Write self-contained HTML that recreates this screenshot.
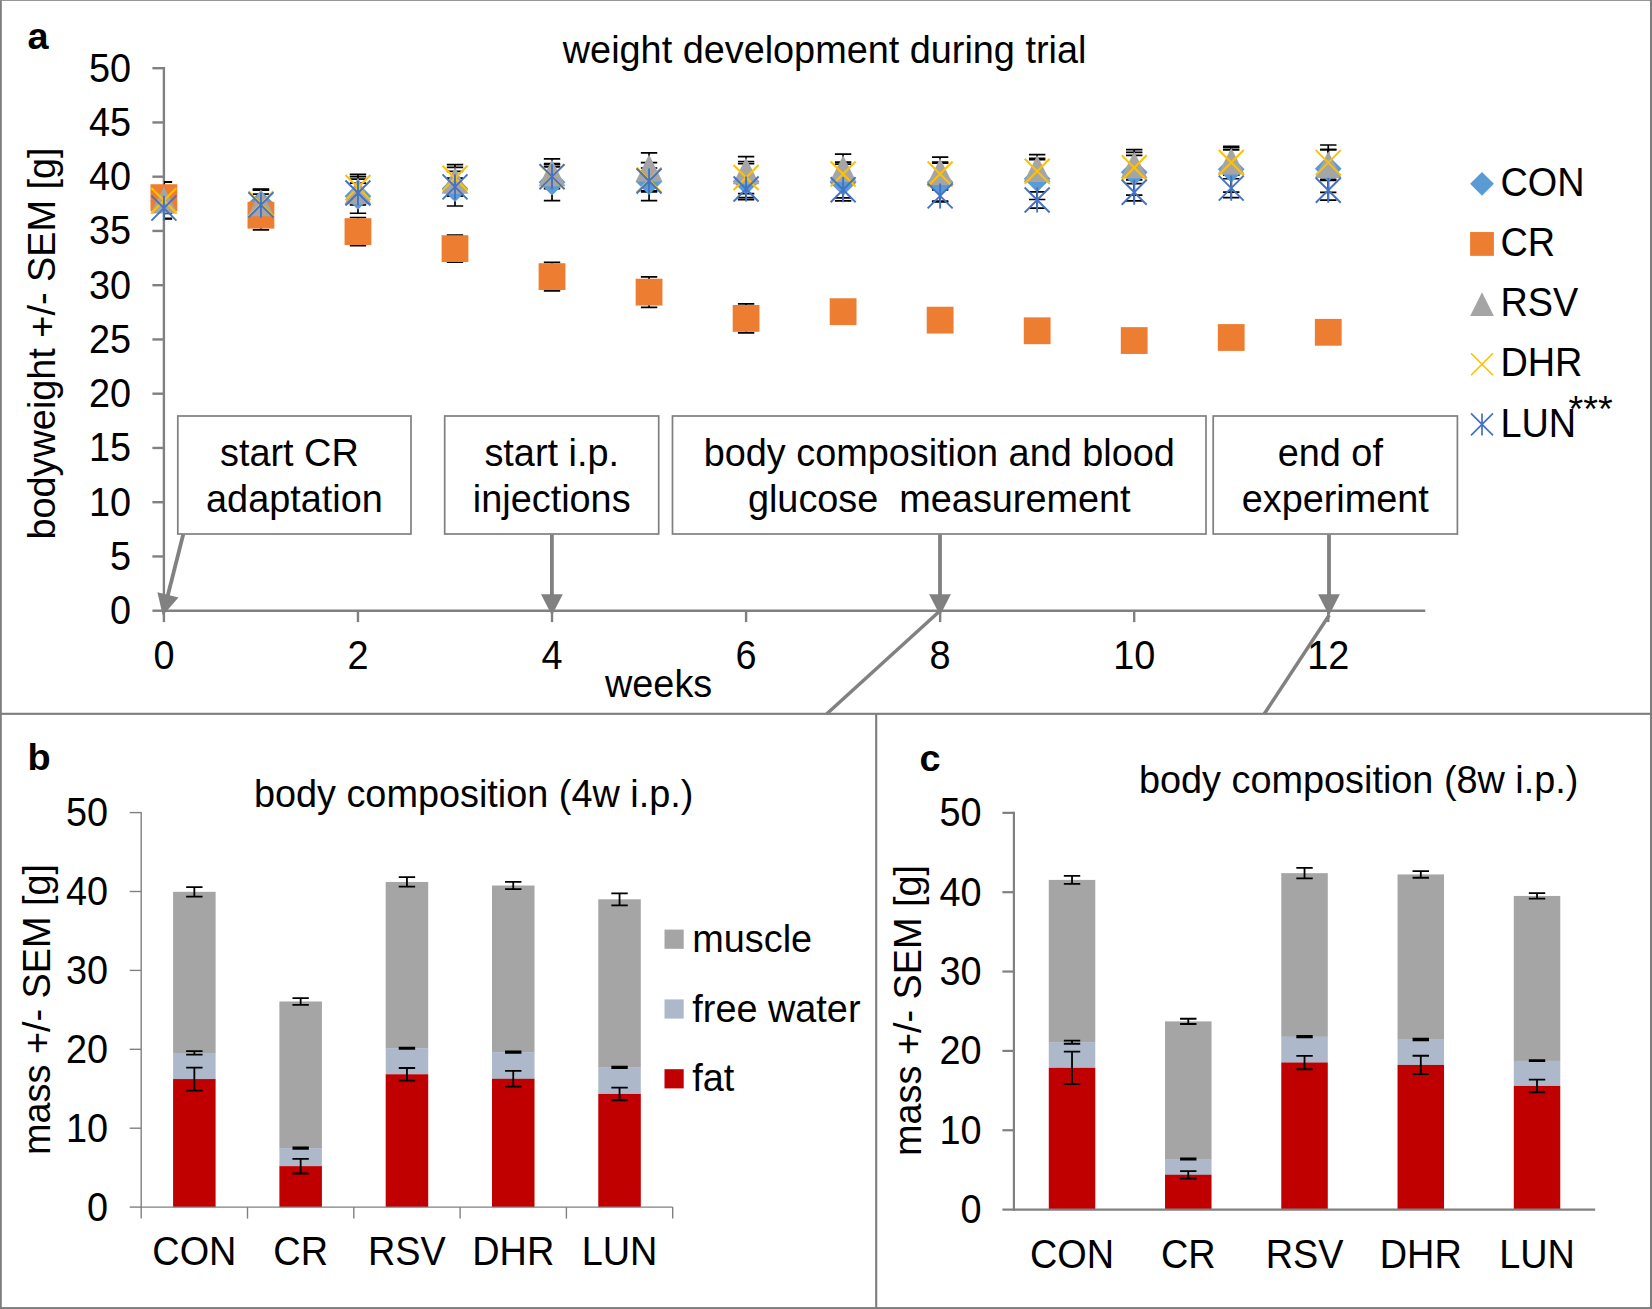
<!DOCTYPE html>
<html lang="en">
<head>
<meta charset="utf-8">
<title>Weight development and body composition</title>
<style>
html,body{margin:0;padding:0;background:#fff;}
body{width:1652px;height:1309px;overflow:hidden;}
svg{display:block;}
svg text{font-family:"Liberation Sans", Arial, sans-serif;font-size:37.85px;fill:#000;white-space:pre;}
</style>
</head>
<body>
<svg width="1652" height="1309" viewBox="0 0 1652 1309">
<rect x="0" y="0" width="1652" height="1309" fill="#ffffff"/>
<rect x="0" y="0" width="1.8" height="1309" fill="#7d7d7d"/>
<rect x="0" y="0" width="1652" height="0.9" fill="#8c8c8c"/>
<rect x="1650" y="0" width="2" height="1309" fill="#7d7d7d"/>
<rect x="0" y="1307.1" width="1652" height="1.9" fill="#7d7d7d"/>
<rect x="0" y="712.75" width="1652" height="2.1" fill="#7d7d7d"/>
<rect x="875.15" y="713" width="2.1" height="595" fill="#7d7d7d"/>
<text transform="translate(27.5,48.8) scale(1,1)" font-size="33.5" font-weight="bold">a</text>
<text transform="translate(562.8,62.7) scale(1,1.01)" font-size="38">weight development during trial</text>
<text transform="translate(55,539.5) rotate(-90) scale(1,1.01)">bodyweight +/- SEM [g]</text>
<text transform="translate(605,696.6) scale(1,1.01)">weeks</text>
<line x1="163.9" y1="67" x2="163.9" y2="611.9" stroke="#808080" stroke-width="2.4"/>
<line x1="162.7" y1="610.7" x2="1425.29" y2="610.7" stroke="#808080" stroke-width="2.4"/>
<line x1="152.4" y1="610.7" x2="163.9" y2="610.7" stroke="#808080" stroke-width="2.4"/>
<text transform="translate(131,624.1) scale(1,1.055)" text-anchor="end">0</text>
<line x1="152.4" y1="556.45" x2="163.9" y2="556.45" stroke="#808080" stroke-width="2.4"/>
<text transform="translate(131,569.85) scale(1,1.055)" text-anchor="end">5</text>
<line x1="152.4" y1="502.2" x2="163.9" y2="502.2" stroke="#808080" stroke-width="2.4"/>
<text transform="translate(131,515.6) scale(1,1.055)" text-anchor="end">10</text>
<line x1="152.4" y1="447.95" x2="163.9" y2="447.95" stroke="#808080" stroke-width="2.4"/>
<text transform="translate(131,461.35) scale(1,1.055)" text-anchor="end">15</text>
<line x1="152.4" y1="393.7" x2="163.9" y2="393.7" stroke="#808080" stroke-width="2.4"/>
<text transform="translate(131,407.1) scale(1,1.055)" text-anchor="end">20</text>
<line x1="152.4" y1="339.45" x2="163.9" y2="339.45" stroke="#808080" stroke-width="2.4"/>
<text transform="translate(131,352.85) scale(1,1.055)" text-anchor="end">25</text>
<line x1="152.4" y1="285.2" x2="163.9" y2="285.2" stroke="#808080" stroke-width="2.4"/>
<text transform="translate(131,298.6) scale(1,1.055)" text-anchor="end">30</text>
<line x1="152.4" y1="230.95" x2="163.9" y2="230.95" stroke="#808080" stroke-width="2.4"/>
<text transform="translate(131,244.35) scale(1,1.055)" text-anchor="end">35</text>
<line x1="152.4" y1="176.7" x2="163.9" y2="176.7" stroke="#808080" stroke-width="2.4"/>
<text transform="translate(131,190.1) scale(1,1.055)" text-anchor="end">40</text>
<line x1="152.4" y1="122.45" x2="163.9" y2="122.45" stroke="#808080" stroke-width="2.4"/>
<text transform="translate(131,135.85) scale(1,1.055)" text-anchor="end">45</text>
<line x1="152.4" y1="68.2" x2="163.9" y2="68.2" stroke="#808080" stroke-width="2.4"/>
<text transform="translate(131,81.6) scale(1,1.055)" text-anchor="end">50</text>
<line x1="163.9" y1="610.7" x2="163.9" y2="622.1" stroke="#808080" stroke-width="2.4"/>
<text transform="translate(163.9,669.3) scale(1,1.055)" text-anchor="middle">0</text>
<line x1="357.96" y1="610.7" x2="357.96" y2="622.1" stroke="#808080" stroke-width="2.4"/>
<text transform="translate(357.96,669.3) scale(1,1.055)" text-anchor="middle">2</text>
<line x1="552.02" y1="610.7" x2="552.02" y2="622.1" stroke="#808080" stroke-width="2.4"/>
<text transform="translate(552.02,669.3) scale(1,1.055)" text-anchor="middle">4</text>
<line x1="746.08" y1="610.7" x2="746.08" y2="622.1" stroke="#808080" stroke-width="2.4"/>
<text transform="translate(746.08,669.3) scale(1,1.055)" text-anchor="middle">6</text>
<line x1="940.14" y1="610.7" x2="940.14" y2="622.1" stroke="#808080" stroke-width="2.4"/>
<text transform="translate(940.14,669.3) scale(1,1.055)" text-anchor="middle">8</text>
<line x1="1134.2" y1="610.7" x2="1134.2" y2="622.1" stroke="#808080" stroke-width="2.4"/>
<text transform="translate(1134.2,669.3) scale(1,1.055)" text-anchor="middle">10</text>
<line x1="1328.26" y1="610.7" x2="1328.26" y2="622.1" stroke="#808080" stroke-width="2.4"/>
<text transform="translate(1328.26,669.3) scale(1,1.055)" text-anchor="middle">12</text>
<clipPath id="plotA"><rect x="164" y="60" width="1270" height="552"/></clipPath>
<g clip-path="url(#plotA)">
<path d="M163.9 182.13V219.02M155.7 182.13H172.1M155.7 219.02H172.1" stroke="#000" stroke-width="1.7" fill="none"/>
<path d="M260.93 190.26V217.39M252.73 190.26H269.13M252.73 217.39H269.13" stroke="#000" stroke-width="1.7" fill="none"/>
<path d="M357.96 179.2V213.26M349.76 179.2H366.16M349.76 213.26H366.16" stroke="#000" stroke-width="1.7" fill="none"/>
<path d="M454.99 171.28V206M446.79 171.28H463.19M446.79 206H463.19" stroke="#000" stroke-width="1.7" fill="none"/>
<path d="M552.02 163.68V200.57M543.82 163.68H560.22M543.82 200.57H560.22" stroke="#000" stroke-width="1.7" fill="none"/>
<path d="M649.05 162.6V200.57M640.85 162.6H657.25M640.85 200.57H657.25" stroke="#000" stroke-width="1.7" fill="none"/>
<path d="M746.08 163.57V199.59M737.88 163.57H754.28M737.88 199.59H754.28" stroke="#000" stroke-width="1.7" fill="none"/>
<path d="M843.11 164.11V200.79M834.91 164.11H851.31M834.91 200.79H851.31" stroke="#000" stroke-width="1.7" fill="none"/>
<path d="M940.14 163.14V201.11M931.94 163.14H948.34M931.94 201.11H948.34" stroke="#000" stroke-width="1.7" fill="none"/>
<path d="M1037.17 158.26V199.49M1028.97 158.26H1045.37M1028.97 199.49H1045.37" stroke="#000" stroke-width="1.7" fill="none"/>
<path d="M1134.2 149.58V195.15M1126 149.58H1142.4M1126 195.15H1142.4" stroke="#000" stroke-width="1.7" fill="none"/>
<path d="M1231.23 146.43V192.22M1223.03 146.43H1239.43M1223.03 192.22H1239.43" stroke="#000" stroke-width="1.7" fill="none"/>
<path d="M1328.26 145.02V192.32M1320.06 145.02H1336.46M1320.06 192.32H1336.46" stroke="#000" stroke-width="1.7" fill="none"/>
<path d="M163.9 181.91V213.37M155.7 181.91H172.1M155.7 213.37H172.1" stroke="#000" stroke-width="1.7" fill="none"/>
<path d="M260.93 200.57V229.87M252.73 200.57H269.13M252.73 229.87H269.13" stroke="#000" stroke-width="1.7" fill="none"/>
<path d="M357.96 217.5V245.71M349.76 217.5H366.16M349.76 245.71H366.16" stroke="#000" stroke-width="1.7" fill="none"/>
<path d="M454.99 235.07V262.2M446.79 235.07H463.19M446.79 262.2H463.19" stroke="#000" stroke-width="1.7" fill="none"/>
<path d="M552.02 262.31V290.95M543.82 262.31H560.22M543.82 290.95H560.22" stroke="#000" stroke-width="1.7" fill="none"/>
<path d="M649.05 276.95V307.33M640.85 276.95H657.25M640.85 307.33H657.25" stroke="#000" stroke-width="1.7" fill="none"/>
<path d="M746.08 303.97V332.83M737.88 303.97H754.28M737.88 332.83H754.28" stroke="#000" stroke-width="1.7" fill="none"/>
<path d="M843.11 300.82V322.52M834.91 300.82H851.31M834.91 322.52H851.31" stroke="#000" stroke-width="1.7" fill="none"/>
<path d="M940.14 310.37V329.9M931.94 310.37H948.34M931.94 329.9H948.34" stroke="#000" stroke-width="1.7" fill="none"/>
<path d="M1037.17 322.09V339.45M1028.97 322.09H1045.37M1028.97 339.45H1045.37" stroke="#000" stroke-width="1.7" fill="none"/>
<path d="M1134.2 331.86V349.22M1126 331.86H1142.4M1126 349.22H1142.4" stroke="#000" stroke-width="1.7" fill="none"/>
<path d="M1231.23 328.82V346.18M1223.03 328.82H1239.43M1223.03 346.18H1239.43" stroke="#000" stroke-width="1.7" fill="none"/>
<path d="M1328.26 323.61V340.97M1320.06 323.61H1336.46M1320.06 340.97H1336.46" stroke="#000" stroke-width="1.7" fill="none"/>
<path d="M163.9 187.01V213.05M155.7 187.01H172.1M155.7 213.05H172.1" stroke="#000" stroke-width="1.7" fill="none"/>
<path d="M260.93 189.18V216.3M252.73 189.18H269.13M252.73 216.3H269.13" stroke="#000" stroke-width="1.7" fill="none"/>
<path d="M357.96 176.7V204.91M349.76 176.7H366.16M349.76 204.91H366.16" stroke="#000" stroke-width="1.7" fill="none"/>
<path d="M454.99 164.55V196.01M446.79 164.55H463.19M446.79 196.01H463.19" stroke="#000" stroke-width="1.7" fill="none"/>
<path d="M552.02 158.8V187.01M543.82 158.8H560.22M543.82 187.01H560.22" stroke="#000" stroke-width="1.7" fill="none"/>
<path d="M649.05 152.83V183.21M640.85 152.83H657.25M640.85 183.21H657.25" stroke="#000" stroke-width="1.7" fill="none"/>
<path d="M746.08 156.63V185.05M737.88 156.63H754.28M737.88 185.05H754.28" stroke="#000" stroke-width="1.7" fill="none"/>
<path d="M843.11 154.13V182.99M834.91 154.13H851.31M834.91 182.99H851.31" stroke="#000" stroke-width="1.7" fill="none"/>
<path d="M940.14 157.17V186.03M931.94 157.17H948.34M931.94 186.03H948.34" stroke="#000" stroke-width="1.7" fill="none"/>
<path d="M1037.17 154.67V182.45M1028.97 154.67H1045.37M1028.97 182.45H1045.37" stroke="#000" stroke-width="1.7" fill="none"/>
<path d="M1134.2 152.29V177.46M1126 152.29H1142.4M1126 177.46H1142.4" stroke="#000" stroke-width="1.7" fill="none"/>
<path d="M1231.23 147.73V174.64M1223.03 147.73H1239.43M1223.03 174.64H1239.43" stroke="#000" stroke-width="1.7" fill="none"/>
<path d="M1328.26 149.68V179.41M1320.06 149.68H1336.46M1320.06 179.41H1336.46" stroke="#000" stroke-width="1.7" fill="none"/>
<path d="M163.9 188.64V212.51M155.7 188.64H172.1M155.7 212.51H172.1" stroke="#000" stroke-width="1.7" fill="none"/>
<path d="M260.93 189.72V217.93M252.73 189.72H269.13M252.73 217.93H269.13" stroke="#000" stroke-width="1.7" fill="none"/>
<path d="M357.96 174.31V200.79M349.76 174.31H366.16M349.76 200.79H366.16" stroke="#000" stroke-width="1.7" fill="none"/>
<path d="M454.99 167.37V189.07M446.79 167.37H463.19M446.79 189.07H463.19" stroke="#000" stroke-width="1.7" fill="none"/>
<path d="M552.02 164.77V188.64M543.82 164.77H560.22M543.82 188.64H560.22" stroke="#000" stroke-width="1.7" fill="none"/>
<path d="M649.05 168.02V191.89M640.85 168.02H657.25M640.85 191.89H657.25" stroke="#000" stroke-width="1.7" fill="none"/>
<path d="M746.08 161.51V193.63M737.88 161.51H754.28M737.88 193.63H754.28" stroke="#000" stroke-width="1.7" fill="none"/>
<path d="M843.11 162.05V185.92M834.91 162.05H851.31M834.91 185.92H851.31" stroke="#000" stroke-width="1.7" fill="none"/>
<path d="M940.14 162.05V185.92M931.94 162.05H948.34M931.94 185.92H948.34" stroke="#000" stroke-width="1.7" fill="none"/>
<path d="M1037.17 159.56V182.99M1028.97 159.56H1045.37M1028.97 182.99H1045.37" stroke="#000" stroke-width="1.7" fill="none"/>
<path d="M1134.2 155.43V179.96M1126 155.43H1142.4M1126 179.96H1142.4" stroke="#000" stroke-width="1.7" fill="none"/>
<path d="M1231.23 149.79V175.18M1223.03 149.79H1239.43M1223.03 175.18H1239.43" stroke="#000" stroke-width="1.7" fill="none"/>
<path d="M1328.26 149.58V175.62M1320.06 149.58H1336.46M1320.06 175.62H1336.46" stroke="#000" stroke-width="1.7" fill="none"/>
<path d="M163.9 197.86V218.47M155.7 197.86H172.1M155.7 218.47H172.1" stroke="#000" stroke-width="1.7" fill="none"/>
<path d="M260.93 194.06V215.76M252.73 194.06H269.13M252.73 215.76H269.13" stroke="#000" stroke-width="1.7" fill="none"/>
<path d="M357.96 183.21V202.74M349.76 183.21H366.16M349.76 202.74H366.16" stroke="#000" stroke-width="1.7" fill="none"/>
<path d="M454.99 178.22V195.58M446.79 178.22H463.19M446.79 195.58H463.19" stroke="#000" stroke-width="1.7" fill="none"/>
<path d="M552.02 166.94V186.47M543.82 166.94H560.22M543.82 186.47H560.22" stroke="#000" stroke-width="1.7" fill="none"/>
<path d="M649.05 171.28V190.81M640.85 171.28H657.25M640.85 190.81H657.25" stroke="#000" stroke-width="1.7" fill="none"/>
<path d="M746.08 180.28V197.64M737.88 180.28H754.28M737.88 197.64H754.28" stroke="#000" stroke-width="1.7" fill="none"/>
<path d="M843.11 181.58V197.86M834.91 181.58H851.31M834.91 197.86H851.31" stroke="#000" stroke-width="1.7" fill="none"/>
<path d="M940.14 189.94V201.87M931.94 189.94H948.34M931.94 201.87H948.34" stroke="#000" stroke-width="1.7" fill="none"/>
<path d="M1037.17 191.89V208.17M1028.97 191.89H1045.37M1028.97 208.17H1045.37" stroke="#000" stroke-width="1.7" fill="none"/>
<path d="M1134.2 183.54V200.9M1126 183.54H1142.4M1126 200.9H1142.4" stroke="#000" stroke-width="1.7" fill="none"/>
<path d="M1231.23 178.76V197.64M1223.03 178.76H1239.43M1223.03 197.64H1239.43" stroke="#000" stroke-width="1.7" fill="none"/>
<path d="M1328.26 180.5V200.03M1320.06 180.5H1336.46M1320.06 200.03H1336.46" stroke="#000" stroke-width="1.7" fill="none"/>
</g>
<path d="M163.9 187.17L177.3 200.57L163.9 213.97L150.5 200.57Z" fill="#5b9bd5"/>
<path d="M260.93 190.43L274.33 203.83L260.93 217.23L247.53 203.83Z" fill="#5b9bd5"/>
<path d="M357.96 182.83L371.36 196.23L357.96 209.63L344.56 196.23Z" fill="#5b9bd5"/>
<path d="M454.99 175.24L468.39 188.64L454.99 202.04L441.59 188.64Z" fill="#5b9bd5"/>
<path d="M552.02 168.73L565.42 182.13L552.02 195.53L538.62 182.13Z" fill="#5b9bd5"/>
<path d="M649.05 168.18L662.45 181.58L649.05 194.98L635.65 181.58Z" fill="#5b9bd5"/>
<path d="M746.08 168.18L759.48 181.58L746.08 194.98L732.68 181.58Z" fill="#5b9bd5"/>
<path d="M843.11 169.05L856.51 182.45L843.11 195.85L829.71 182.45Z" fill="#5b9bd5"/>
<path d="M940.14 168.73L953.54 182.13L940.14 195.53L926.74 182.13Z" fill="#5b9bd5"/>
<path d="M1037.17 165.47L1050.57 178.87L1037.17 192.27L1023.77 178.87Z" fill="#5b9bd5"/>
<path d="M1134.2 158.96L1147.6 172.36L1134.2 185.76L1120.8 172.36Z" fill="#5b9bd5"/>
<path d="M1231.23 155.92L1244.63 169.32L1231.23 182.72L1217.83 169.32Z" fill="#5b9bd5"/>
<path d="M1328.26 155.27L1341.66 168.67L1328.26 182.07L1314.86 168.67Z" fill="#5b9bd5"/>
<rect x="150.5" y="184.24" width="26.8" height="26.8" fill="#ed7d31"/>
<rect x="247.53" y="201.82" width="26.8" height="26.8" fill="#ed7d31"/>
<rect x="344.56" y="218.2" width="26.8" height="26.8" fill="#ed7d31"/>
<rect x="441.59" y="235.24" width="26.8" height="26.8" fill="#ed7d31"/>
<rect x="538.62" y="263.23" width="26.8" height="26.8" fill="#ed7d31"/>
<rect x="635.65" y="278.74" width="26.8" height="26.8" fill="#ed7d31"/>
<rect x="732.68" y="305" width="26.8" height="26.8" fill="#ed7d31"/>
<rect x="829.71" y="298.27" width="26.8" height="26.8" fill="#ed7d31"/>
<rect x="926.74" y="306.74" width="26.8" height="26.8" fill="#ed7d31"/>
<rect x="1023.77" y="317.37" width="26.8" height="26.8" fill="#ed7d31"/>
<rect x="1120.8" y="327.14" width="26.8" height="26.8" fill="#ed7d31"/>
<rect x="1217.83" y="324.1" width="26.8" height="26.8" fill="#ed7d31"/>
<rect x="1314.86" y="318.89" width="26.8" height="26.8" fill="#ed7d31"/>
<path d="M163.9 186.63L177.3 213.43H150.5Z" fill="#a5a5a5"/>
<path d="M260.93 189.34L274.33 216.14H247.53Z" fill="#a5a5a5"/>
<path d="M357.96 177.41L371.36 204.21H344.56Z" fill="#a5a5a5"/>
<path d="M454.99 166.88L468.39 193.68H441.59Z" fill="#a5a5a5"/>
<path d="M552.02 159.5L565.42 186.3H538.62Z" fill="#a5a5a5"/>
<path d="M649.05 154.62L662.45 181.42H635.65Z" fill="#a5a5a5"/>
<path d="M746.08 157.44L759.48 184.24H732.68Z" fill="#a5a5a5"/>
<path d="M843.11 155.16L856.51 181.96H829.71Z" fill="#a5a5a5"/>
<path d="M940.14 158.2L953.54 185H926.74Z" fill="#a5a5a5"/>
<path d="M1037.17 155.16L1050.57 181.96H1023.77Z" fill="#a5a5a5"/>
<path d="M1134.2 151.47L1147.6 178.27H1120.8Z" fill="#a5a5a5"/>
<path d="M1231.23 147.78L1244.63 174.58H1217.83Z" fill="#a5a5a5"/>
<path d="M1328.26 151.15L1341.66 177.95H1314.86Z" fill="#a5a5a5"/>
<path d="M151.4 188.07L176.4 213.07M151.4 213.07L176.4 188.07" stroke="#ffc000" stroke-width="2.0" fill="none"/>
<path d="M248.43 191.33L273.43 216.33M248.43 216.33L273.43 191.33" stroke="#ffc000" stroke-width="2.0" fill="none"/>
<path d="M345.46 175.05L370.46 200.05M345.46 200.05L370.46 175.05" stroke="#ffc000" stroke-width="2.0" fill="none"/>
<path d="M442.49 165.72L467.49 190.72M442.49 190.72L467.49 165.72" stroke="#ffc000" stroke-width="2.0" fill="none"/>
<path d="M539.52 164.2L564.52 189.2M539.52 189.2L564.52 164.2" stroke="#ffc000" stroke-width="2.0" fill="none"/>
<path d="M636.55 167.46L661.55 192.46M636.55 192.46L661.55 167.46" stroke="#ffc000" stroke-width="2.0" fill="none"/>
<path d="M733.58 165.07L758.58 190.07M733.58 190.07L758.58 165.07" stroke="#ffc000" stroke-width="2.0" fill="none"/>
<path d="M830.61 161.49L855.61 186.49M830.61 186.49L855.61 161.49" stroke="#ffc000" stroke-width="2.0" fill="none"/>
<path d="M927.64 161.49L952.64 186.49M927.64 186.49L952.64 161.49" stroke="#ffc000" stroke-width="2.0" fill="none"/>
<path d="M1024.67 158.78L1049.67 183.78M1024.67 183.78L1049.67 158.78" stroke="#ffc000" stroke-width="2.0" fill="none"/>
<path d="M1121.7 155.19L1146.7 180.19M1121.7 180.19L1146.7 155.19" stroke="#ffc000" stroke-width="2.0" fill="none"/>
<path d="M1218.73 149.99L1243.73 174.99M1218.73 174.99L1243.73 149.99" stroke="#ffc000" stroke-width="2.0" fill="none"/>
<path d="M1315.76 150.1L1340.76 175.1M1315.76 175.1L1340.76 150.1" stroke="#ffc000" stroke-width="2.0" fill="none"/>
<path d="M151.4 195.67L176.4 220.67M151.4 220.67L176.4 195.67M163.9 195.67V220.67" stroke="#4472c4" stroke-width="1.9" fill="none"/>
<path d="M248.43 192.41L273.43 217.41M248.43 217.41L273.43 192.41M260.93 192.41V217.41" stroke="#4472c4" stroke-width="1.9" fill="none"/>
<path d="M345.46 180.48L370.46 205.48M345.46 205.48L370.46 180.48M357.96 180.48V205.48" stroke="#4472c4" stroke-width="1.9" fill="none"/>
<path d="M442.49 174.4L467.49 199.4M442.49 199.4L467.49 174.4M454.99 174.4V199.4" stroke="#4472c4" stroke-width="1.9" fill="none"/>
<path d="M539.52 164.2L564.52 189.2M539.52 189.2L564.52 164.2M552.02 164.2V189.2" stroke="#4472c4" stroke-width="1.9" fill="none"/>
<path d="M636.55 168.54L661.55 193.54M636.55 193.54L661.55 168.54M649.05 168.54V193.54" stroke="#4472c4" stroke-width="1.9" fill="none"/>
<path d="M733.58 176.46L758.58 201.46M733.58 201.46L758.58 176.46M746.08 176.46V201.46" stroke="#4472c4" stroke-width="1.9" fill="none"/>
<path d="M830.61 177.22L855.61 202.22M830.61 202.22L855.61 177.22M843.11 177.22V202.22" stroke="#4472c4" stroke-width="1.9" fill="none"/>
<path d="M927.64 183.4L952.64 208.4M927.64 208.4L952.64 183.4M940.14 183.4V208.4" stroke="#4472c4" stroke-width="1.9" fill="none"/>
<path d="M1024.67 187.53L1049.67 212.53M1024.67 212.53L1049.67 187.53M1037.17 187.53V212.53" stroke="#4472c4" stroke-width="1.9" fill="none"/>
<path d="M1121.7 179.72L1146.7 204.72M1121.7 204.72L1146.7 179.72M1134.2 179.72V204.72" stroke="#4472c4" stroke-width="1.9" fill="none"/>
<path d="M1218.73 175.7L1243.73 200.7M1218.73 200.7L1243.73 175.7M1231.23 175.7V200.7" stroke="#4472c4" stroke-width="1.9" fill="none"/>
<path d="M1315.76 177.76L1340.76 202.76M1315.76 202.76L1340.76 177.76M1328.26 177.76V202.76" stroke="#4472c4" stroke-width="1.9" fill="none"/>
<path d="M1482 171.9L1493.9 183.8L1482 195.7L1470.1 183.8Z" fill="#5b9bd5"/>
<text transform="translate(1500.4,195.9) scale(1,1.055)">CON</text>
<rect x="1470.1" y="232.05" width="23.8" height="23.8" fill="#ed7d31"/>
<text transform="translate(1500.4,256.05) scale(1,1.055)">CR</text>
<path d="M1482 292.2L1493.9 316H1470.1Z" fill="#a5a5a5"/>
<text transform="translate(1500.4,316.2) scale(1,1.055)">RSV</text>
<path d="M1471 353.25L1493 375.25M1471 375.25L1493 353.25" stroke="#ffc000" stroke-width="1.7" fill="none"/>
<text transform="translate(1500.4,376.35) scale(1,1.055)">DHR</text>
<path d="M1471 413.4L1493 435.4M1471 435.4L1493 413.4M1482 413.4V435.4" stroke="#4472c4" stroke-width="1.7" fill="none"/>
<text transform="translate(1500.4,436.5) scale(1,1.055)">LUN</text>
<text transform="translate(1568.5,421.8) scale(1,1)" font-size="33.8">***</text>
<rect x="177.8" y="416" width="233.2" height="118" fill="#ffffff" stroke="#7f7f7f" stroke-width="1.7"/>
<text transform="translate(289.4,466.1) scale(1,1.01)" text-anchor="middle">start CR</text>
<text transform="translate(294.4,511.9) scale(1,1.01)" text-anchor="middle">adaptation</text>
<rect x="444.7" y="416" width="214" height="118" fill="#ffffff" stroke="#7f7f7f" stroke-width="1.7"/>
<text transform="translate(551.7,466.1) scale(1,1.01)" text-anchor="middle">start i.p.</text>
<text transform="translate(551.7,511.9) scale(1,1.01)" text-anchor="middle">injections</text>
<rect x="672.5" y="416" width="533.5" height="118" fill="#ffffff" stroke="#7f7f7f" stroke-width="1.7"/>
<text transform="translate(939.25,466.1) scale(1,1.01)" text-anchor="middle">body composition and blood</text>
<text transform="translate(939.25,511.9) scale(1,1.01)" text-anchor="middle">glucose  measurement</text>
<rect x="1213.2" y="416" width="244.2" height="118" fill="#ffffff" stroke="#7f7f7f" stroke-width="1.7"/>
<text transform="translate(1330.3,466.1) scale(1,1.01)" text-anchor="middle">end of</text>
<text transform="translate(1335.3,511.9) scale(1,1.01)" text-anchor="middle">experiment</text>
<line x1="183.2" y1="534.5" x2="167.47" y2="596.79" stroke="#818181" stroke-width="3.8"/>
<path d="M162.75 615.5L157.4 592.18L178.53 597.52Z" fill="#818181"/>
<line x1="551.9" y1="534.5" x2="551.9" y2="596.3" stroke="#818181" stroke-width="3.8"/>
<path d="M551.9 615.6L541 594.3L562.8 594.3Z" fill="#818181"/>
<line x1="940" y1="534.5" x2="940" y2="596.3" stroke="#818181" stroke-width="3.8"/>
<path d="M940 615.6L929.1 594.3L950.9 594.3Z" fill="#818181"/>
<line x1="1329" y1="534.5" x2="1329" y2="596.3" stroke="#818181" stroke-width="3.8"/>
<path d="M1329 615.6L1318.1 594.3L1339.9 594.3Z" fill="#818181"/>
<line x1="939.8" y1="611" x2="826.6" y2="714" stroke="#818181" stroke-width="3.5"/>
<line x1="1329.3" y1="615" x2="1264.2" y2="714" stroke="#818181" stroke-width="3.5"/>
<text transform="translate(27.5,769.5) scale(1,1)" font-size="33.5" font-weight="bold">b</text>
<text transform="translate(253.9,806.8) scale(1,1.01)" font-size="38.15">body composition (4w i.p.)</text>
<text transform="translate(50,1155) rotate(-90) scale(1,1.01)">mass +/- SEM [g]</text>
<rect x="173.09" y="891.82" width="42.52" height="161.41" fill="#a5a5a5"/>
<rect x="173.09" y="1052.93" width="42.52" height="26.42" fill="#adb9ca"/>
<rect x="173.09" y="1079.05" width="42.52" height="128.05" fill="#c00000"/>
<rect x="279.39" y="1001.49" width="42.52" height="146.9" fill="#a5a5a5"/>
<rect x="279.39" y="1148.08" width="42.52" height="18.37" fill="#adb9ca"/>
<rect x="279.39" y="1166.15" width="42.52" height="40.95" fill="#c00000"/>
<rect x="385.69" y="881.95" width="42.52" height="166.54" fill="#a5a5a5"/>
<rect x="385.69" y="1048.2" width="42.52" height="26.42" fill="#adb9ca"/>
<rect x="385.69" y="1074.31" width="42.52" height="132.79" fill="#c00000"/>
<rect x="491.99" y="885.5" width="42.52" height="166.94" fill="#a5a5a5"/>
<rect x="491.99" y="1052.14" width="42.52" height="26.97" fill="#adb9ca"/>
<rect x="491.99" y="1078.81" width="42.52" height="128.29" fill="#c00000"/>
<rect x="598.29" y="899.31" width="42.52" height="168.36" fill="#a5a5a5"/>
<rect x="598.29" y="1067.37" width="42.52" height="26.89" fill="#adb9ca"/>
<rect x="598.29" y="1093.96" width="42.52" height="113.14" fill="#c00000"/>
<line x1="141.2" y1="811.9" x2="141.2" y2="1207.8" stroke="#808080" stroke-width="1.4"/>
<line x1="140.5" y1="1207.1" x2="672.7" y2="1207.1" stroke="#808080" stroke-width="1.4"/>
<line x1="129.7" y1="1207.1" x2="141.2" y2="1207.1" stroke="#808080" stroke-width="1.4"/>
<text transform="translate(108,1220.5) scale(1,1.055)" text-anchor="end">0</text>
<line x1="129.7" y1="1128.2" x2="141.2" y2="1128.2" stroke="#808080" stroke-width="1.4"/>
<text transform="translate(108,1141.6) scale(1,1.055)" text-anchor="end">10</text>
<line x1="129.7" y1="1049.3" x2="141.2" y2="1049.3" stroke="#808080" stroke-width="1.4"/>
<text transform="translate(108,1062.7) scale(1,1.055)" text-anchor="end">20</text>
<line x1="129.7" y1="970.4" x2="141.2" y2="970.4" stroke="#808080" stroke-width="1.4"/>
<text transform="translate(108,983.8) scale(1,1.055)" text-anchor="end">30</text>
<line x1="129.7" y1="891.5" x2="141.2" y2="891.5" stroke="#808080" stroke-width="1.4"/>
<text transform="translate(108,904.9) scale(1,1.055)" text-anchor="end">40</text>
<line x1="129.7" y1="812.6" x2="141.2" y2="812.6" stroke="#808080" stroke-width="1.4"/>
<text transform="translate(108,826) scale(1,1.055)" text-anchor="end">50</text>
<line x1="141.2" y1="1207.1" x2="141.2" y2="1218.6" stroke="#808080" stroke-width="1.4"/>
<line x1="247.5" y1="1207.1" x2="247.5" y2="1218.6" stroke="#808080" stroke-width="1.4"/>
<line x1="353.8" y1="1207.1" x2="353.8" y2="1218.6" stroke="#808080" stroke-width="1.4"/>
<line x1="460.1" y1="1207.1" x2="460.1" y2="1218.6" stroke="#808080" stroke-width="1.4"/>
<line x1="566.4" y1="1207.1" x2="566.4" y2="1218.6" stroke="#808080" stroke-width="1.4"/>
<line x1="672.7" y1="1207.1" x2="672.7" y2="1218.6" stroke="#808080" stroke-width="1.4"/>
<path d="M194.35 1067.53V1090.56M186.15 1067.53H202.55M186.15 1090.56H202.55" stroke="#000" stroke-width="1.8" fill="none"/>
<path d="M194.35 1051.19V1054.67M186.15 1051.19H202.55M186.15 1054.67H202.55" stroke="#000" stroke-width="1.8" fill="none"/>
<path d="M194.35 887.08V896.55M186.15 887.08H202.55M186.15 896.55H202.55" stroke="#000" stroke-width="1.8" fill="none"/>
<path d="M300.65 1158.81V1173.49M292.45 1158.81H308.85M292.45 1173.49H308.85" stroke="#000" stroke-width="1.8" fill="none"/>
<path d="M300.65 1147.29V1148.87M292.45 1147.29H308.85M292.45 1148.87H308.85" stroke="#000" stroke-width="1.8" fill="none"/>
<path d="M300.65 998.17V1004.8M292.45 998.17H308.85M292.45 1004.8H308.85" stroke="#000" stroke-width="1.8" fill="none"/>
<path d="M406.95 1068V1080.62M398.75 1068H415.15M398.75 1080.62H415.15" stroke="#000" stroke-width="1.8" fill="none"/>
<path d="M406.95 1047.56V1048.83M398.75 1047.56H415.15M398.75 1048.83H415.15" stroke="#000" stroke-width="1.8" fill="none"/>
<path d="M406.95 877.22V886.69M398.75 877.22H415.15M398.75 886.69H415.15" stroke="#000" stroke-width="1.8" fill="none"/>
<path d="M513.25 1070.92V1086.7M505.05 1070.92H521.45M505.05 1086.7H521.45" stroke="#000" stroke-width="1.8" fill="none"/>
<path d="M513.25 1051.35V1052.93M505.05 1051.35H521.45M505.05 1052.93H521.45" stroke="#000" stroke-width="1.8" fill="none"/>
<path d="M513.25 881.87V889.13M505.05 881.87H521.45M505.05 889.13H521.45" stroke="#000" stroke-width="1.8" fill="none"/>
<path d="M619.55 1087.65V1100.27M611.35 1087.65H627.75M611.35 1100.27H627.75" stroke="#000" stroke-width="1.8" fill="none"/>
<path d="M619.55 1066.74V1068M611.35 1066.74H627.75M611.35 1068H627.75" stroke="#000" stroke-width="1.8" fill="none"/>
<path d="M619.55 893.31V905.31M611.35 893.31H627.75M611.35 905.31H627.75" stroke="#000" stroke-width="1.8" fill="none"/>
<text transform="translate(194.35,1264.6) scale(1,1.055)" text-anchor="middle">CON</text>
<text transform="translate(300.65,1264.6) scale(1,1.055)" text-anchor="middle">CR</text>
<text transform="translate(406.95,1264.6) scale(1,1.055)" text-anchor="middle">RSV</text>
<text transform="translate(513.25,1264.6) scale(1,1.055)" text-anchor="middle">DHR</text>
<text transform="translate(619.55,1264.6) scale(1,1.055)" text-anchor="middle">LUN</text>
<rect x="664.5" y="929.6" width="19.2" height="19.2" fill="#a5a5a5"/>
<text transform="translate(692.3,951.8) scale(1,1.01)">muscle</text>
<rect x="664.5" y="999.4" width="19.2" height="19.2" fill="#adb9ca"/>
<text transform="translate(692.3,1021.6) scale(1,1.01)">free water</text>
<rect x="664.5" y="1069.2" width="19.2" height="19.2" fill="#c00000"/>
<text transform="translate(692.3,1091.4) scale(1,1.01)">fat</text>
<text transform="translate(919.5,770.8) scale(1,1)" font-size="33.5" font-weight="bold">c</text>
<text transform="translate(1139,793.3) scale(1,1.01)" font-size="38.15">body composition (8w i.p.)</text>
<text transform="translate(921,1156) rotate(-90) scale(1,1.01)">mass +/- SEM [g]</text>
<rect x="1048.78" y="879.9" width="46.5" height="162.57" fill="#a5a5a5"/>
<rect x="1048.78" y="1042.17" width="46.5" height="26.01" fill="#adb9ca"/>
<rect x="1048.78" y="1067.88" width="46.5" height="141.72" fill="#c00000"/>
<rect x="1165.03" y="1021.38" width="46.5" height="137.97" fill="#a5a5a5"/>
<rect x="1165.03" y="1159.05" width="46.5" height="16.01" fill="#adb9ca"/>
<rect x="1165.03" y="1174.77" width="46.5" height="34.83" fill="#c00000"/>
<rect x="1281.28" y="873.16" width="46.5" height="163.76" fill="#a5a5a5"/>
<rect x="1281.28" y="1036.62" width="46.5" height="26.25" fill="#adb9ca"/>
<rect x="1281.28" y="1062.56" width="46.5" height="147.04" fill="#c00000"/>
<rect x="1397.53" y="874.43" width="46.5" height="165.35" fill="#a5a5a5"/>
<rect x="1397.53" y="1039.47" width="46.5" height="25.77" fill="#adb9ca"/>
<rect x="1397.53" y="1064.94" width="46.5" height="144.66" fill="#c00000"/>
<rect x="1513.78" y="895.93" width="46.5" height="165.11" fill="#a5a5a5"/>
<rect x="1513.78" y="1060.74" width="46.5" height="25.53" fill="#adb9ca"/>
<rect x="1513.78" y="1085.97" width="46.5" height="123.63" fill="#c00000"/>
<line x1="1013.9" y1="811.75" x2="1013.9" y2="1210.7" stroke="#808080" stroke-width="2.2"/>
<line x1="1012.8" y1="1209.6" x2="1595.15" y2="1209.6" stroke="#808080" stroke-width="2.2"/>
<line x1="1002.4" y1="1209.6" x2="1013.9" y2="1209.6" stroke="#808080" stroke-width="2.2"/>
<text transform="translate(981.5,1223) scale(1,1.055)" text-anchor="end">0</text>
<line x1="1002.4" y1="1130.25" x2="1013.9" y2="1130.25" stroke="#808080" stroke-width="2.2"/>
<text transform="translate(981.5,1143.65) scale(1,1.055)" text-anchor="end">10</text>
<line x1="1002.4" y1="1050.9" x2="1013.9" y2="1050.9" stroke="#808080" stroke-width="2.2"/>
<text transform="translate(981.5,1064.3) scale(1,1.055)" text-anchor="end">20</text>
<line x1="1002.4" y1="971.55" x2="1013.9" y2="971.55" stroke="#808080" stroke-width="2.2"/>
<text transform="translate(981.5,984.95) scale(1,1.055)" text-anchor="end">30</text>
<line x1="1002.4" y1="892.2" x2="1013.9" y2="892.2" stroke="#808080" stroke-width="2.2"/>
<text transform="translate(981.5,905.6) scale(1,1.055)" text-anchor="end">40</text>
<line x1="1002.4" y1="812.85" x2="1013.9" y2="812.85" stroke="#808080" stroke-width="2.2"/>
<text transform="translate(981.5,826.25) scale(1,1.055)" text-anchor="end">50</text>
<path d="M1072.03 1051.69V1084.07M1063.83 1051.69H1080.23M1063.83 1084.07H1080.23" stroke="#000" stroke-width="1.8" fill="none"/>
<path d="M1072.03 1040.58V1043.76M1063.83 1040.58H1080.23M1063.83 1043.76H1080.23" stroke="#000" stroke-width="1.8" fill="none"/>
<path d="M1072.03 875.93V883.87M1063.83 875.93H1080.23M1063.83 883.87H1080.23" stroke="#000" stroke-width="1.8" fill="none"/>
<path d="M1188.28 1171.04V1178.49M1180.08 1171.04H1196.48M1180.08 1178.49H1196.48" stroke="#000" stroke-width="1.8" fill="none"/>
<path d="M1188.28 1158.42V1159.69M1180.08 1158.42H1196.48M1180.08 1159.69H1196.48" stroke="#000" stroke-width="1.8" fill="none"/>
<path d="M1188.28 1018.76V1024M1180.08 1018.76H1196.48M1180.08 1024H1196.48" stroke="#000" stroke-width="1.8" fill="none"/>
<path d="M1304.53 1055.9V1069.23M1296.33 1055.9H1312.73M1296.33 1069.23H1312.73" stroke="#000" stroke-width="1.8" fill="none"/>
<path d="M1304.53 1035.98V1037.25M1296.33 1035.98H1312.73M1296.33 1037.25H1312.73" stroke="#000" stroke-width="1.8" fill="none"/>
<path d="M1304.53 867.84V878.47M1296.33 867.84H1312.73M1296.33 878.47H1312.73" stroke="#000" stroke-width="1.8" fill="none"/>
<path d="M1420.78 1055.74V1074.15M1412.58 1055.74H1428.98M1412.58 1074.15H1428.98" stroke="#000" stroke-width="1.8" fill="none"/>
<path d="M1420.78 1038.68V1040.27M1412.58 1038.68H1428.98M1412.58 1040.27H1428.98" stroke="#000" stroke-width="1.8" fill="none"/>
<path d="M1420.78 871.09V877.76M1412.58 871.09H1428.98M1412.58 877.76H1428.98" stroke="#000" stroke-width="1.8" fill="none"/>
<path d="M1537.03 1079.7V1092.24M1528.83 1079.7H1545.23M1528.83 1092.24H1545.23" stroke="#000" stroke-width="1.8" fill="none"/>
<path d="M1537.03 1060.26V1061.22M1528.83 1060.26H1545.23M1528.83 1061.22H1545.23" stroke="#000" stroke-width="1.8" fill="none"/>
<path d="M1537.03 893.15V898.71M1528.83 893.15H1545.23M1528.83 898.71H1545.23" stroke="#000" stroke-width="1.8" fill="none"/>
<text transform="translate(1072.03,1268.2) scale(1,1.055)" text-anchor="middle">CON</text>
<text transform="translate(1188.28,1268.2) scale(1,1.055)" text-anchor="middle">CR</text>
<text transform="translate(1304.53,1268.2) scale(1,1.055)" text-anchor="middle">RSV</text>
<text transform="translate(1420.78,1268.2) scale(1,1.055)" text-anchor="middle">DHR</text>
<text transform="translate(1537.03,1268.2) scale(1,1.055)" text-anchor="middle">LUN</text>
</svg>
</body>
</html>
